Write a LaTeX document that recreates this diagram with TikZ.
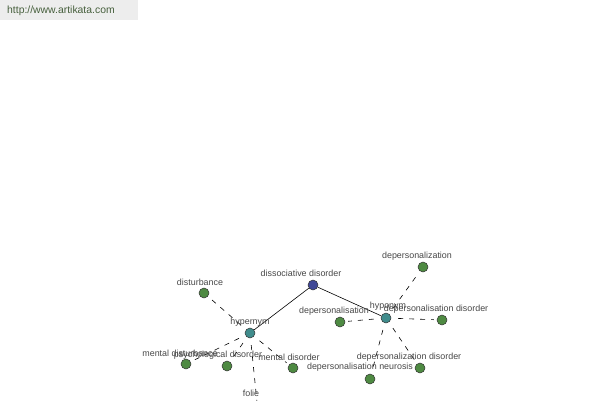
\documentclass[tikz,border=0pt]{standalone}
\usepackage{fontspec}
\setmainfont{Liberation Sans}
\definecolor{leaf}{RGB}{78,138,66}
\definecolor{root}{RGB}{64,72,150}
\definecolor{hub}{RGB}{64,140,140}
\definecolor{urlc}{RGB}{70,95,60}
\begin{document}
\begin{tikzpicture}[x=1pt,y=-1pt,
  dot/.style={circle,draw=black!80,line width=0.5pt,minimum size=10pt,inner sep=0pt},
  gdot/.style={dot,fill=leaf},
  bdot/.style={dot,fill=root},
  tdot/.style={dot,fill=hub},
  lbl/.style={font=\fontsize{8.9}{10}\selectfont,text=black!72,inner sep=0pt},
  rel/.style={draw=black,line width=0.6pt,dash pattern=on 5pt off 6pt,shorten <=7pt,shorten >=3pt},
  solid link/.style={draw=black,line width=0.6pt}]
\useasboundingbox (0,0) rectangle (600,400);
\clip (0,0) rectangle (600,400);
\fill[black!7] (0,0) rectangle (138,20);
\node[font=\fontsize{10.4}{12}\selectfont,text=urlc,anchor=west,inner sep=0pt] (url) at (7,11) {http://www.artikata.com};

% nodes
\node[bdot] (dis) at (313,285) {};
\node[tdot] (hyper) at (250,333) {};
\node[tdot] (hypo) at (386,318) {};
\node[gdot] (disturb) at (204,293) {};
\node[gdot] (mdist) at (186,364) {};
\node[gdot] (psych) at (227,366) {};
\node[gdot] (mdis) at (293,368) {};
\node[gdot] (folie) at (258,412) {};
\node[gdot] (dpz) at (423,267) {};
\node[gdot] (dps) at (340,322) {};
\node[gdot] (dpsd) at (442,320) {};
\node[gdot] (dpzd) at (420,368) {};
\node[gdot] (dpsn) at (370,379) {};

% connectors
\draw[solid link] (dis) -- (hyper);
\draw[solid link] (dis) -- (hypo);
\foreach \t in {disturb,mdist,psych,mdis,folie}
  \draw[rel] (hyper) -- (\t);
\foreach \t in {dpz,dps,dpsd,dpzd,dpsn}
  \draw[rel] (hypo) -- (\t);

% labels
\node[lbl] (ldis) at (301,273) {dissociative disorder};
\node[lbl] (lhyper) at (250,322) {hypernym};
\node[lbl] (lhypo) at (388,306) {hyponym};
\node[lbl] (ldisturb) at (200,282) {disturbance};
\node[lbl] (lmdist) at (180,353) {mental disturbance};
\node[lbl] (lpsych) at (218,355) {psychological disorder};
\node[lbl] (lmdis) at (289,357) {mental disorder};
\node[lbl] (lfolie) at (251,393) {folie};
\node[lbl] (ldpz) at (417,256) {depersonalization};
\node[lbl] (ldps) at (334,311) {depersonalisation};
\node[lbl] (ldpsd) at (436,309) {depersonalisation disorder};
\node[lbl] (ldpzd) at (409,357) {depersonalization disorder};
\node[lbl] (ldpsn) at (360,367) {depersonalisation neurosis};
\end{tikzpicture}
\end{document}
